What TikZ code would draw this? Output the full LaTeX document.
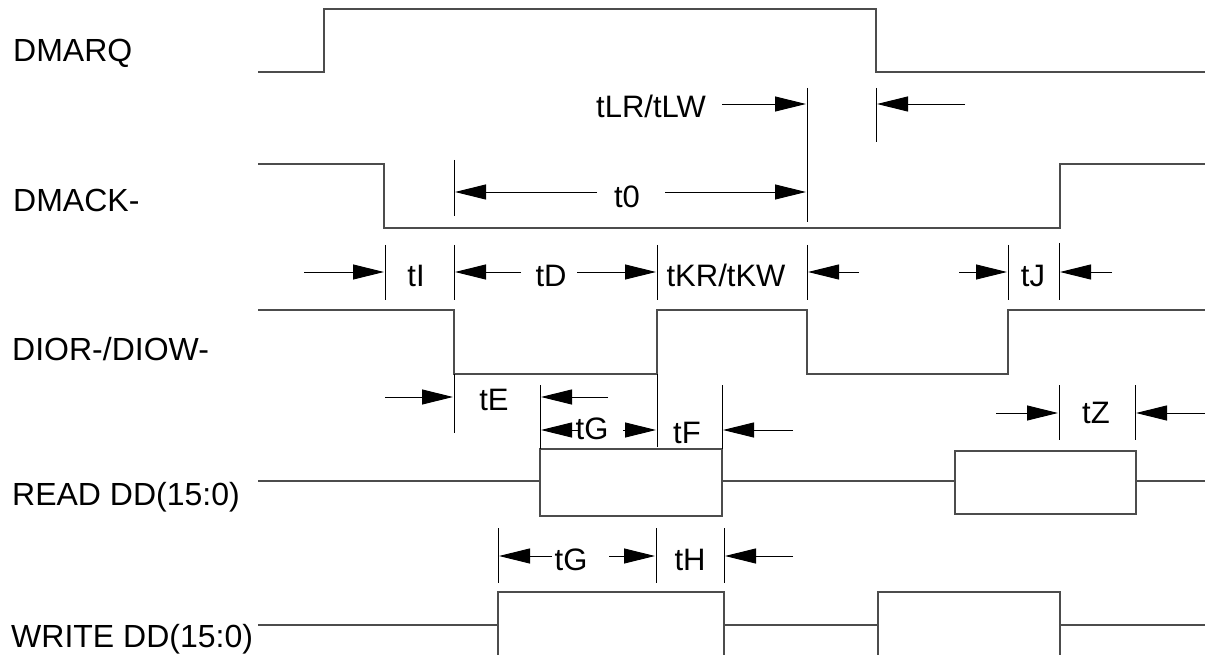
\documentclass[tikz,border=0pt]{standalone}
\usepackage{fontspec}
\setmainfont{Liberation Sans}
\usetikzlibrary{arrows.meta}

\begin{document}
\begin{tikzpicture}[x=1pt,y=-1pt,
    sig/.style={line width=1.3pt,black!70},
    tick/.style={line width=0.9pt},
    dim/.style={line width=0.9pt,-{Triangle[length=31pt,width=15pt]}},
    lbl/.style={inner sep=0pt,anchor=base,font=\fontsize{31}{36}\selectfont},
    signame/.style={inner sep=0pt,anchor=base west,font=\fontsize{32}{38}\selectfont}]
    \fill[white] (0,0) rectangle (1205,655);
    \useasboundingbox (0,0) rectangle (1205,655);
    % signal names
    \node[signame] (dmarq) at (13,62) {DMARQ};
    \node[signame] (dmack) at (13,212) {DMACK-};
    \node[signame] (dior) at (12,360) {DIOR-/DIOW-};
    \node[signame] (read) at (12,505) {READ DD(15:0)};
    \node[signame] (write) at (11,647) {WRITE DD(15:0)};
    % waveforms
    \draw[sig] (258,72) -- (324,72) -- (324,9) -- (876,9) -- (876,72) -- (1205,72);
    \draw[sig] (258,164) -- (384,164) -- (384,228) -- (1060,228) -- (1060,164) -- (1205,164);
    \draw[sig] (258,310) -- (454,310) -- (454,374) -- (657,374) -- (657,310) -- (807,310)
        -- (807,374) -- (1008,374) -- (1008,310) -- (1205,310);
    \draw[sig] (258,481) -- (540,481) (722,481) -- (955,481) (1136,481) -- (1205,481);
    \draw[sig] (540,449) rectangle (722,516);
    \draw[sig] (955,451) rectangle (1136,514);
    \draw[sig] (258,625) -- (498,625) (724,625) -- (878,625) (1060,625) -- (1205,625);
    \draw[sig] (498,660) -- (498,592) -- (724,592) -- (724,660);
    \draw[sig] (878,660) -- (878,592) -- (1060,592) -- (1060,660);
    % tLR/tLW and t0
    \draw[tick] (807,88) -- (807,222);
    \draw[tick] (876,88) -- (876,142);
    \draw[tick] (454,160) -- (454,216);
    \node[lbl] (tlr) at (651,118) {tLR/tLW};
    \draw[dim] (722,104) -- (806,104);
    \draw[dim] (965,104) -- (877,104);
    \node[lbl] (tzero) at (627,208) {t0};
    \draw[dim] (597,192) -- (455,192);
    \draw[dim] (665,192) -- (806,192);
    % tI, tD, tKR/tKW, tJ
    \draw[tick] (385,245) -- (385,300);
    \draw[tick] (454,245) -- (454,300);
    \draw[tick] (657,245) -- (657,300);
    \draw[tick] (807,245) -- (807,300);
    \draw[tick] (1008,245) -- (1008,300);
    \draw[tick] (1059,243) -- (1059,300);
    \node[lbl] (ti) at (416,287) {tI};
    \draw[dim] (304,272) -- (384,272);
    \node[lbl] (td) at (551,287) {tD};
    \draw[dim] (521,272) -- (455,272);
    \draw[dim] (577,272) -- (656,272);
    \node[lbl] (tkr) at (726,287) {tKR/tKW};
    \draw[dim] (859,272) -- (808,272);
    \node[lbl] (tj) at (1033,287) {tJ};
    \draw[dim] (959,272) -- (1007,272);
    \draw[dim] (1112,272) -- (1060,272);
    % tE, tG, tF, tZ
    \draw[tick] (454,374) -- (454,433);
    \draw[tick] (540,385) -- (540,449);
    \draw[tick] (657,374) -- (657,447);
    \draw[tick] (722,385) -- (722,449);
    \draw[tick] (1059,385) -- (1059,440);
    \draw[tick] (1135,385) -- (1135,440);
    \node[lbl] (te) at (494,410) {tE};
    \draw[dim] (385,397) -- (453,397);
    \draw[dim] (608,397) -- (541,397);
    \node[lbl] (tgr) at (592,439) {tG};
    \draw[dim] (578,430) -- (541,430);
    \draw[dim] (623,430) -- (656,430);
    \node[lbl] (tf) at (687,443) {tF};
    \draw[dim] (793,430) -- (723,430);
    \node[lbl] (tz) at (1096,423) {tZ};
    \draw[dim] (996,413) -- (1058,413);
    \draw[dim] (1205,413) -- (1136,413);
    % tG, tH
    \draw[tick] (498,528) -- (498,583);
    \draw[tick] (656,528) -- (656,583);
    \draw[tick] (724,528) -- (724,583);
    \node[lbl] (tgw) at (571,570) {tG};
    \draw[dim] (552,556) -- (499,556);
    \draw[dim] (609,556) -- (655,556);
    \node[lbl] (th) at (690,570) {tH};
    \draw[dim] (793,556) -- (725,556);
\end{tikzpicture}
\end{document}
